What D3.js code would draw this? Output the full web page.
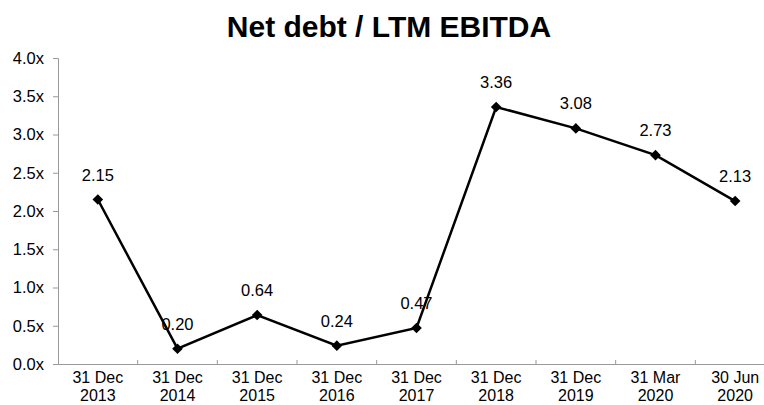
<!DOCTYPE html>
<html>
<head>
<meta charset="utf-8">
<script src="https://cdn.jsdelivr.net/npm/d3@7"></script>
<style>
  body { margin: 0; background: #fff; }
  svg { display: block; font-family: "Liberation Sans", Arial, sans-serif; }
</style>
</head>
<body>
<div id="chart"></div>
<script>
const categories = [
  ['31 Dec', '2013'], ['31 Dec', '2014'], ['31 Dec', '2015'], ['31 Dec', '2016'],
  ['31 Dec', '2017'], ['31 Dec', '2018'], ['31 Dec', '2019'], ['31 Mar', '2020'], ['30 Jun', '2020']
];
const values = [2.15, 0.20, 0.64, 0.24, 0.47, 3.36, 3.08, 2.73, 2.13];
const yTicks = [0, 0.5, 1, 1.5, 2, 2.5, 3, 3.5, 4];

const W = 764, H = 405;
const plot = { left: 58, right: 775, top: 58, bottom: 364 };
const fs = '16.5px';

const svg = d3.select('#chart').append('svg')
  .attr('width', W).attr('height', H);

svg.append('text')
  .attr('x', 389).attr('y', 37)
  .attr('text-anchor', 'middle')
  .style('font-size', '30px').style('font-weight', 'bold')
  .text('Net debt / LTM EBITDA');

const keys = categories.map((c, i) => i);
const x = d3.scaleBand().domain(keys).range([plot.left, plot.right]);
const y = d3.scaleLinear().domain([0, 4]).range([plot.bottom, plot.top]);

// Y axis
const yAxis = svg.append('g')
  .attr('transform', `translate(${plot.left},0)`)
  .call(d3.axisLeft(y).tickValues(yTicks).tickSize(5).tickPadding(9)
    .tickFormat(d => d3.format('.1f')(d) + 'x'));
yAxis.select('.domain').attr('stroke', '#999');
yAxis.selectAll('.tick line').attr('stroke', '#999');
yAxis.selectAll('text').style('font-size', fs).attr('fill', '#000');

// X axis
const xAxis = svg.append('g')
  .attr('transform', `translate(0,${plot.bottom})`)
  .call(d3.axisBottom(x).tickSize(0).tickFormat(''));
xAxis.select('.domain').attr('stroke', '#999');

svg.append('g').selectAll('line')
  .data(keys.slice(1))
  .join('line')
  .attr('x1', d => x(d)).attr('x2', d => x(d))
  .attr('y1', plot.bottom - 4).attr('y2', plot.bottom)
  .attr('stroke', '#999');

// two-line category labels
const lblG = svg.append('g').style('font-size', '16px').attr('text-anchor', 'middle');
lblG.selectAll('text.l1')
  .data(keys).join('text').attr('class', 'l1')
  .attr('x', d => x(d) + x.bandwidth() / 2)
  .attr('y', 383)
  .text(d => categories[d][0]);
lblG.selectAll('text.l2')
  .data(keys).join('text').attr('class', 'l2')
  .attr('x', d => x(d) + x.bandwidth() / 2)
  .attr('y', 401)
  .text(d => categories[d][1]);

// Line
const cx = i => x(i) + x.bandwidth() / 2;
svg.append('path')
  .datum(values)
  .attr('fill', 'none')
  .attr('stroke', '#000')
  .attr('stroke-width', 2.5)
  .attr('d', d3.line().x((d, i) => cx(i)).y(d => y(d)));

svg.append('g').selectAll('path')
  .data(values)
  .join('path')
  .attr('transform', (d, i) => `translate(${cx(i)},${y(d)})`)
  .attr('d', d3.symbol(d3.symbolDiamond2, 72))
  .attr('fill', '#000');

svg.append('g').selectAll('text')
  .data(values)
  .join('text')
  .attr('x', (d, i) => cx(i))
  .attr('y', d => y(d) - 19)
  .attr('text-anchor', 'middle')
  .style('font-size', fs)
  .text(d => d3.format('.2f')(d));
</script>
</body>
</html>
